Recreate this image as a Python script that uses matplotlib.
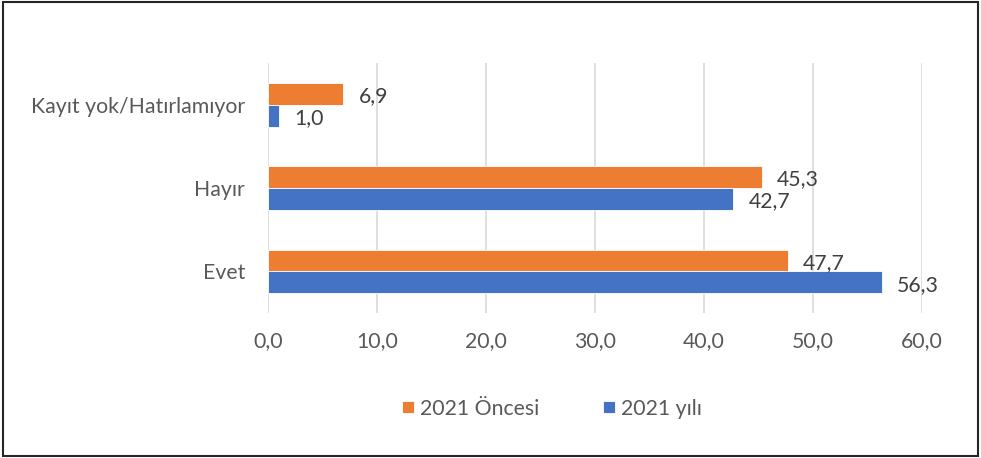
import numpy as np
import matplotlib.pyplot as plt
from matplotlib.patches import Rectangle

plt.rcParams['font.family'] = ['Lato', 'DejaVu Sans']

categories = ['Evet', 'Hayır', 'Kayıt yok/Hatırlamıyor']
before_2021 = [47.7, 45.3, 6.9]
year_2021 = [56.3, 42.7, 1.0]
series_names = ['2021 Öncesi', '2021 yılı']
xticks = [0, 10, 20, 30, 40, 50, 60]

orange = '#ED7D31'
blue = '#4472C4'
h = 0.262
fs = 15.3

fig = plt.figure(figsize=(9.81, 4.58), dpi=100)
ax = fig.add_axes([0.2732, 0.3166, 0.6667, 0.5458])

y = np.arange(len(categories))
b1 = ax.barh(y + h / 2, before_2021, height=h, color=orange, edgecolor='white', linewidth=0.6, label=series_names[0])
b2 = ax.barh(y - h / 2, year_2021, height=h, color=blue, edgecolor='white', linewidth=0.6, label=series_names[1])

# value labels with comma decimals
fmt = lambda v: f'{v:.1f}'.replace('.', ',')
for bars, vals in [(b1, before_2021), (b2, year_2021)]:
    for bar, v in zip(bars, vals):
        ax.text(v + 1.4, bar.get_y() + bar.get_height() / 2 - 0.03, fmt(v),
                va='center', ha='left', fontsize=fs, color='#404040')

ax.set_xlim(0, 60)
ax.set_ylim(-0.5, 2.5)
ax.set_xticks(xticks)
ax.set_xticklabels([fmt(t) for t in xticks])
ax.set_yticks(y)
ax.set_yticklabels(categories)
ax.tick_params(axis='both', length=0, labelsize=fs, colors='#595959')
ax.tick_params(axis='x', pad=13)
ax.tick_params(axis='y', pad=16.5)
for s in ax.spines.values():
    s.set_visible(False)
ax.grid(axis='x', color='#D9D9D9', linewidth=1.2)
ax.set_axisbelow(True)

leg = fig.legend(handles=[b1, b2], loc='center', bbox_to_anchor=(0.563, 0.108), ncol=2,
                 frameon=False, fontsize=fs, handlelength=0.55, handleheight=0.55,
                 handletextpad=0.3, columnspacing=3.0)
for t in leg.get_texts():
    t.set_color('#595959')

# outer frame
fig.patches.append(Rectangle((0.003, 0.005), 0.994, 0.99, transform=fig.transFigure,
                             fill=False, edgecolor='#262626', linewidth=1.5))

fig.savefig('out.png', dpi=100)
